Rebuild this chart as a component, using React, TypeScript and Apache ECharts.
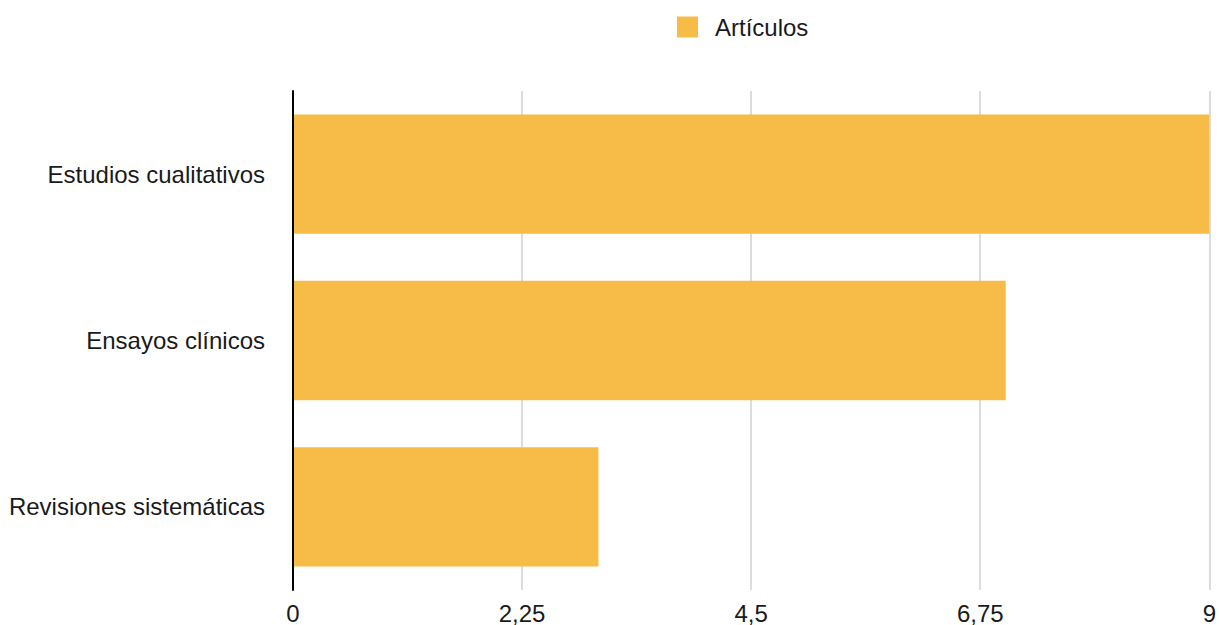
import React, { useEffect, useRef } from "react";
import * as echarts from "echarts";

const categories = ["Revisiones sistemáticas", "Ensayos clínicos", "Estudios cualitativos"];
const articulos = [3, 7, 9];
const seriesName = "Artículos";

export default function App() {
  const ref = useRef<HTMLDivElement>(null);
  useEffect(() => {
    const chart = echarts.init(ref.current!, null, { renderer: "svg" });
    const font = "'Liberation Sans', Arial, Helvetica, sans-serif";
    chart.setOption({
      animation: false,
      textStyle: { fontFamily: font },
      legend: {
        data: [seriesName],
        top: 15,
        left: 677,
        itemWidth: 21,
        itemHeight: 21,
        itemGap: 10,
        icon: "rect",
        padding: 0,
        textStyle: { fontSize: 24, color: "#1a1a1a", fontFamily: font, padding: [0, 0, 0, 12] },
      },
      grid: { left: 293, right: 9, top: 91, bottom: 32, containLabel: false },
      xAxis: {
        type: "value",
        min: 0,
        max: 9,
        interval: 2.25,
        axisLine: { show: false },
        axisTick: { show: false },
        splitLine: { show: true, lineStyle: { color: "#d0d0d0", width: 1.5 } },
        axisLabel: {
          fontSize: 24,
          color: "#1a1a1a",
          margin: 11,
          fontFamily: font,
          formatter: (v: number) => String(v).replace(".", ","),
        },
      },
      yAxis: {
        type: "category",
        data: categories,
        z: 5,
        axisLine: { show: true, lineStyle: { color: "#000", width: 2 } },
        axisTick: { show: false },
        axisLabel: { fontSize: 24, color: "#1a1a1a", margin: 28, fontFamily: font },
      },
      series: [
        {
          name: seriesName,
          type: "bar",
          data: articulos,
          barCategoryGap: "28.3%",
          itemStyle: { color: "#F7BB47" },
        },
      ],
    });
    return () => chart.dispose();
  }, []);
  return (
    <div
      ref={ref}
      style={{ position: "absolute", left: 0, top: 0, width: 1219, height: 625 }}
    />
  );
}
